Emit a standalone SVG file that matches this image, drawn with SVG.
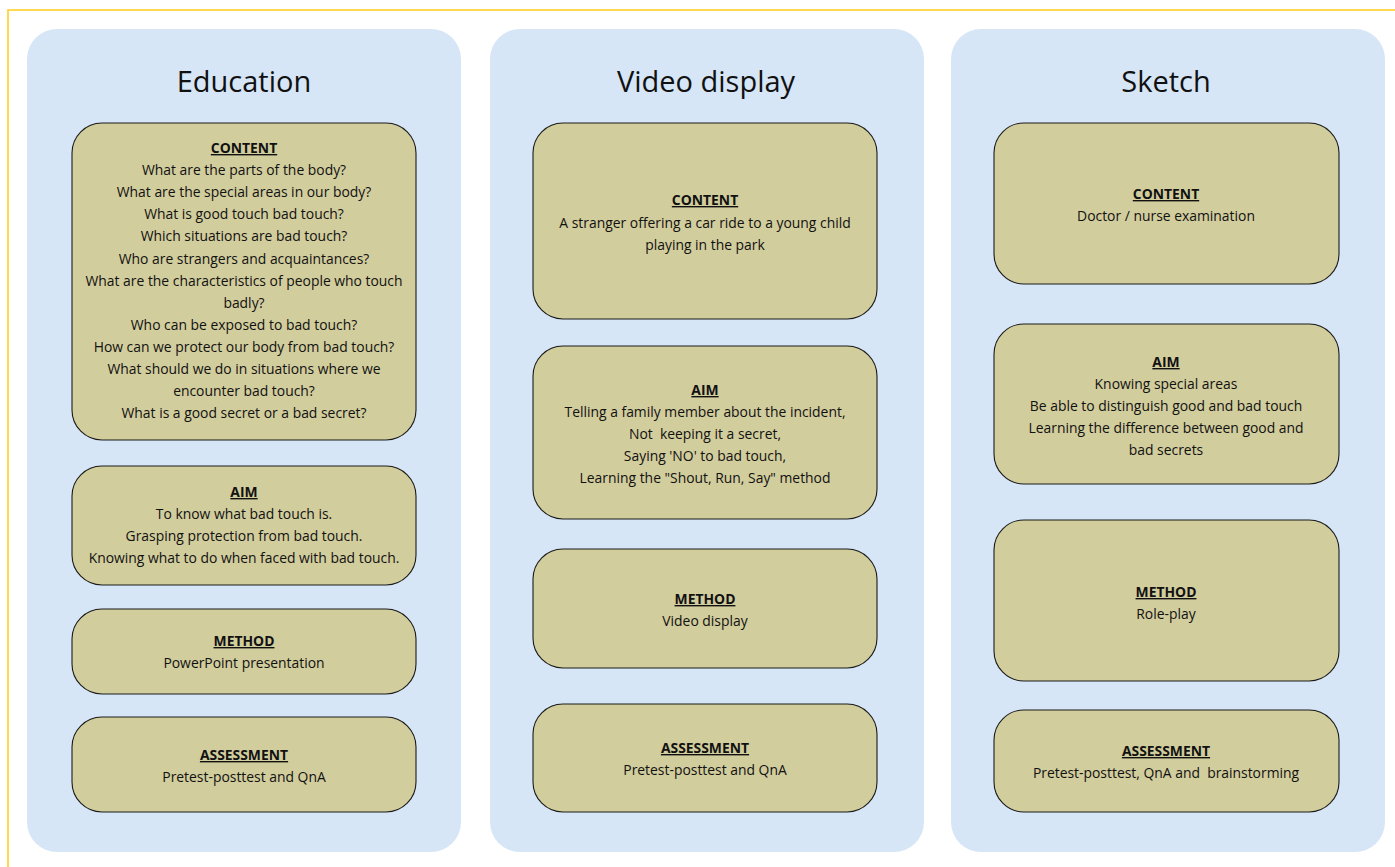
<svg xmlns="http://www.w3.org/2000/svg" width="1395" height="867" viewBox="0 0 1395 867">
<style>
.frame{fill:none;stroke:#FFD026;stroke-width:1.6}
.panel{fill:#D6E6F6}
.box{fill:#D2CD9D;stroke:#1a1a1a;stroke-width:1.1}
.title{font-family:"Open Sans","Noto Sans",sans-serif;font-size:29px;fill:#111;text-anchor:middle}
.hd{font-family:"Open Sans","Noto Sans",sans-serif;font-size:13.9px;font-weight:bold;fill:#111;text-anchor:middle;text-decoration:underline}
.tx{font-family:"Open Sans","Noto Sans",sans-serif;font-size:13.9px;fill:#111;text-anchor:middle}
</style>
<rect width="1395" height="867" fill="#fff"/>
<rect class="frame" x="8" y="10" width="1400" height="870"/>
<g id="panel-education">
<rect class="panel" x="27" y="29" width="434" height="823" rx="30"/>
<text class="title" x="244" y="92">Education</text>
</g>
<g id="panel-video">
<rect class="panel" x="490" y="29" width="434" height="823" rx="30"/>
<text class="title" x="706" y="92">Video display</text>
</g>
<g id="panel-sketch">
<rect class="panel" x="951" y="29" width="434" height="823" rx="30"/>
<text class="title" x="1166" y="92">Sketch</text>
</g>
<g id="edu-content">
<rect class="box" x="72" y="123" width="344" height="317" rx="30"/>
<text class="hd" x="244" y="153">CONTENT</text>
<text class="tx" x="244" y="175">What are the parts of the body?</text>
<text class="tx" x="244" y="197">What are the special areas in our body?</text>
<text class="tx" x="244" y="219">What is good touch bad touch?</text>
<text class="tx" x="244" y="241">Which situations are bad touch?</text>
<text class="tx" x="244" y="264">Who are strangers and acquaintances?</text>
<text class="tx" x="244" y="286">What are the characteristics of people who touch</text>
<text class="tx" x="244" y="308">badly?</text>
<text class="tx" x="244" y="330">Who can be exposed to bad touch?</text>
<text class="tx" x="244" y="352">How can we protect our body from bad touch?</text>
<text class="tx" x="244" y="374">What should we do in situations where we</text>
<text class="tx" x="244" y="396">encounter bad touch?</text>
<text class="tx" x="244" y="418">What is a good secret or a bad secret?</text>
</g>
<g id="edu-aim">
<rect class="box" x="72" y="466" width="344" height="119" rx="30"/>
<text class="hd" x="244" y="497">AIM</text>
<text class="tx" x="244" y="519">To know what bad touch is.</text>
<text class="tx" x="244" y="541">Grasping protection from bad touch.</text>
<text class="tx" x="244" y="563">Knowing what to do when faced with bad touch.</text>
</g>
<g id="edu-method">
<rect class="box" x="72" y="609" width="344" height="85" rx="30"/>
<text class="hd" x="244" y="646">METHOD</text>
<text class="tx" x="244" y="668">PowerPoint presentation</text>
</g>
<g id="edu-assessment">
<rect class="box" x="72" y="717" width="344" height="95" rx="30"/>
<text class="hd" x="244" y="760">ASSESSMENT</text>
<text class="tx" x="244" y="782">Pretest-posttest and QnA</text>
</g>
<g id="vid-content">
<rect class="box" x="533" y="123" width="344" height="196" rx="30"/>
<text class="hd" x="705" y="205">CONTENT</text>
<text class="tx" x="705" y="228">A stranger offering a car ride to a young child</text>
<text class="tx" x="705" y="250">playing in the park</text>
</g>
<g id="vid-aim">
<rect class="box" x="533" y="346" width="344" height="173" rx="30"/>
<text class="hd" x="705" y="395">AIM</text>
<text class="tx" x="705" y="417">Telling a family member about the incident,</text>
<text class="tx" x="705" y="439" xml:space="preserve">Not  keeping it a secret,</text>
<text class="tx" x="705" y="461">Saying 'NO' to bad touch,</text>
<text class="tx" x="705" y="483">Learning the "Shout, Run, Say" method</text>
</g>
<g id="vid-method">
<rect class="box" x="533" y="549" width="344" height="119" rx="30"/>
<text class="hd" x="705" y="604">METHOD</text>
<text class="tx" x="705" y="626">Video display</text>
</g>
<g id="vid-assessment">
<rect class="box" x="533" y="704" width="344" height="108" rx="30"/>
<text class="hd" x="705" y="753">ASSESSMENT</text>
<text class="tx" x="705" y="775">Pretest-posttest and QnA</text>
</g>
<g id="sk-content">
<rect class="box" x="994" y="123" width="345" height="161" rx="30"/>
<text class="hd" x="1166" y="199">CONTENT</text>
<text class="tx" x="1166" y="221">Doctor / nurse examination</text>
</g>
<g id="sk-aim">
<rect class="box" x="994" y="324" width="345" height="160" rx="30"/>
<text class="hd" x="1166" y="367">AIM</text>
<text class="tx" x="1166" y="389">Knowing special areas</text>
<text class="tx" x="1166" y="411">Be able to distinguish good and bad touch</text>
<text class="tx" x="1166" y="433">Learning the difference between good and</text>
<text class="tx" x="1166" y="455">bad secrets</text>
</g>
<g id="sk-method">
<rect class="box" x="994" y="520" width="345" height="161" rx="30"/>
<text class="hd" x="1166" y="597">METHOD</text>
<text class="tx" x="1166" y="619">Role-play</text>
</g>
<g id="sk-assessment">
<rect class="box" x="994" y="710" width="345" height="102" rx="30"/>
<text class="hd" x="1166" y="756">ASSESSMENT</text>
<text class="tx" x="1166" y="778" xml:space="preserve">Pretest-posttest, QnA and  brainstorming</text>
</g>
<g id="connectors"/>
</svg>
